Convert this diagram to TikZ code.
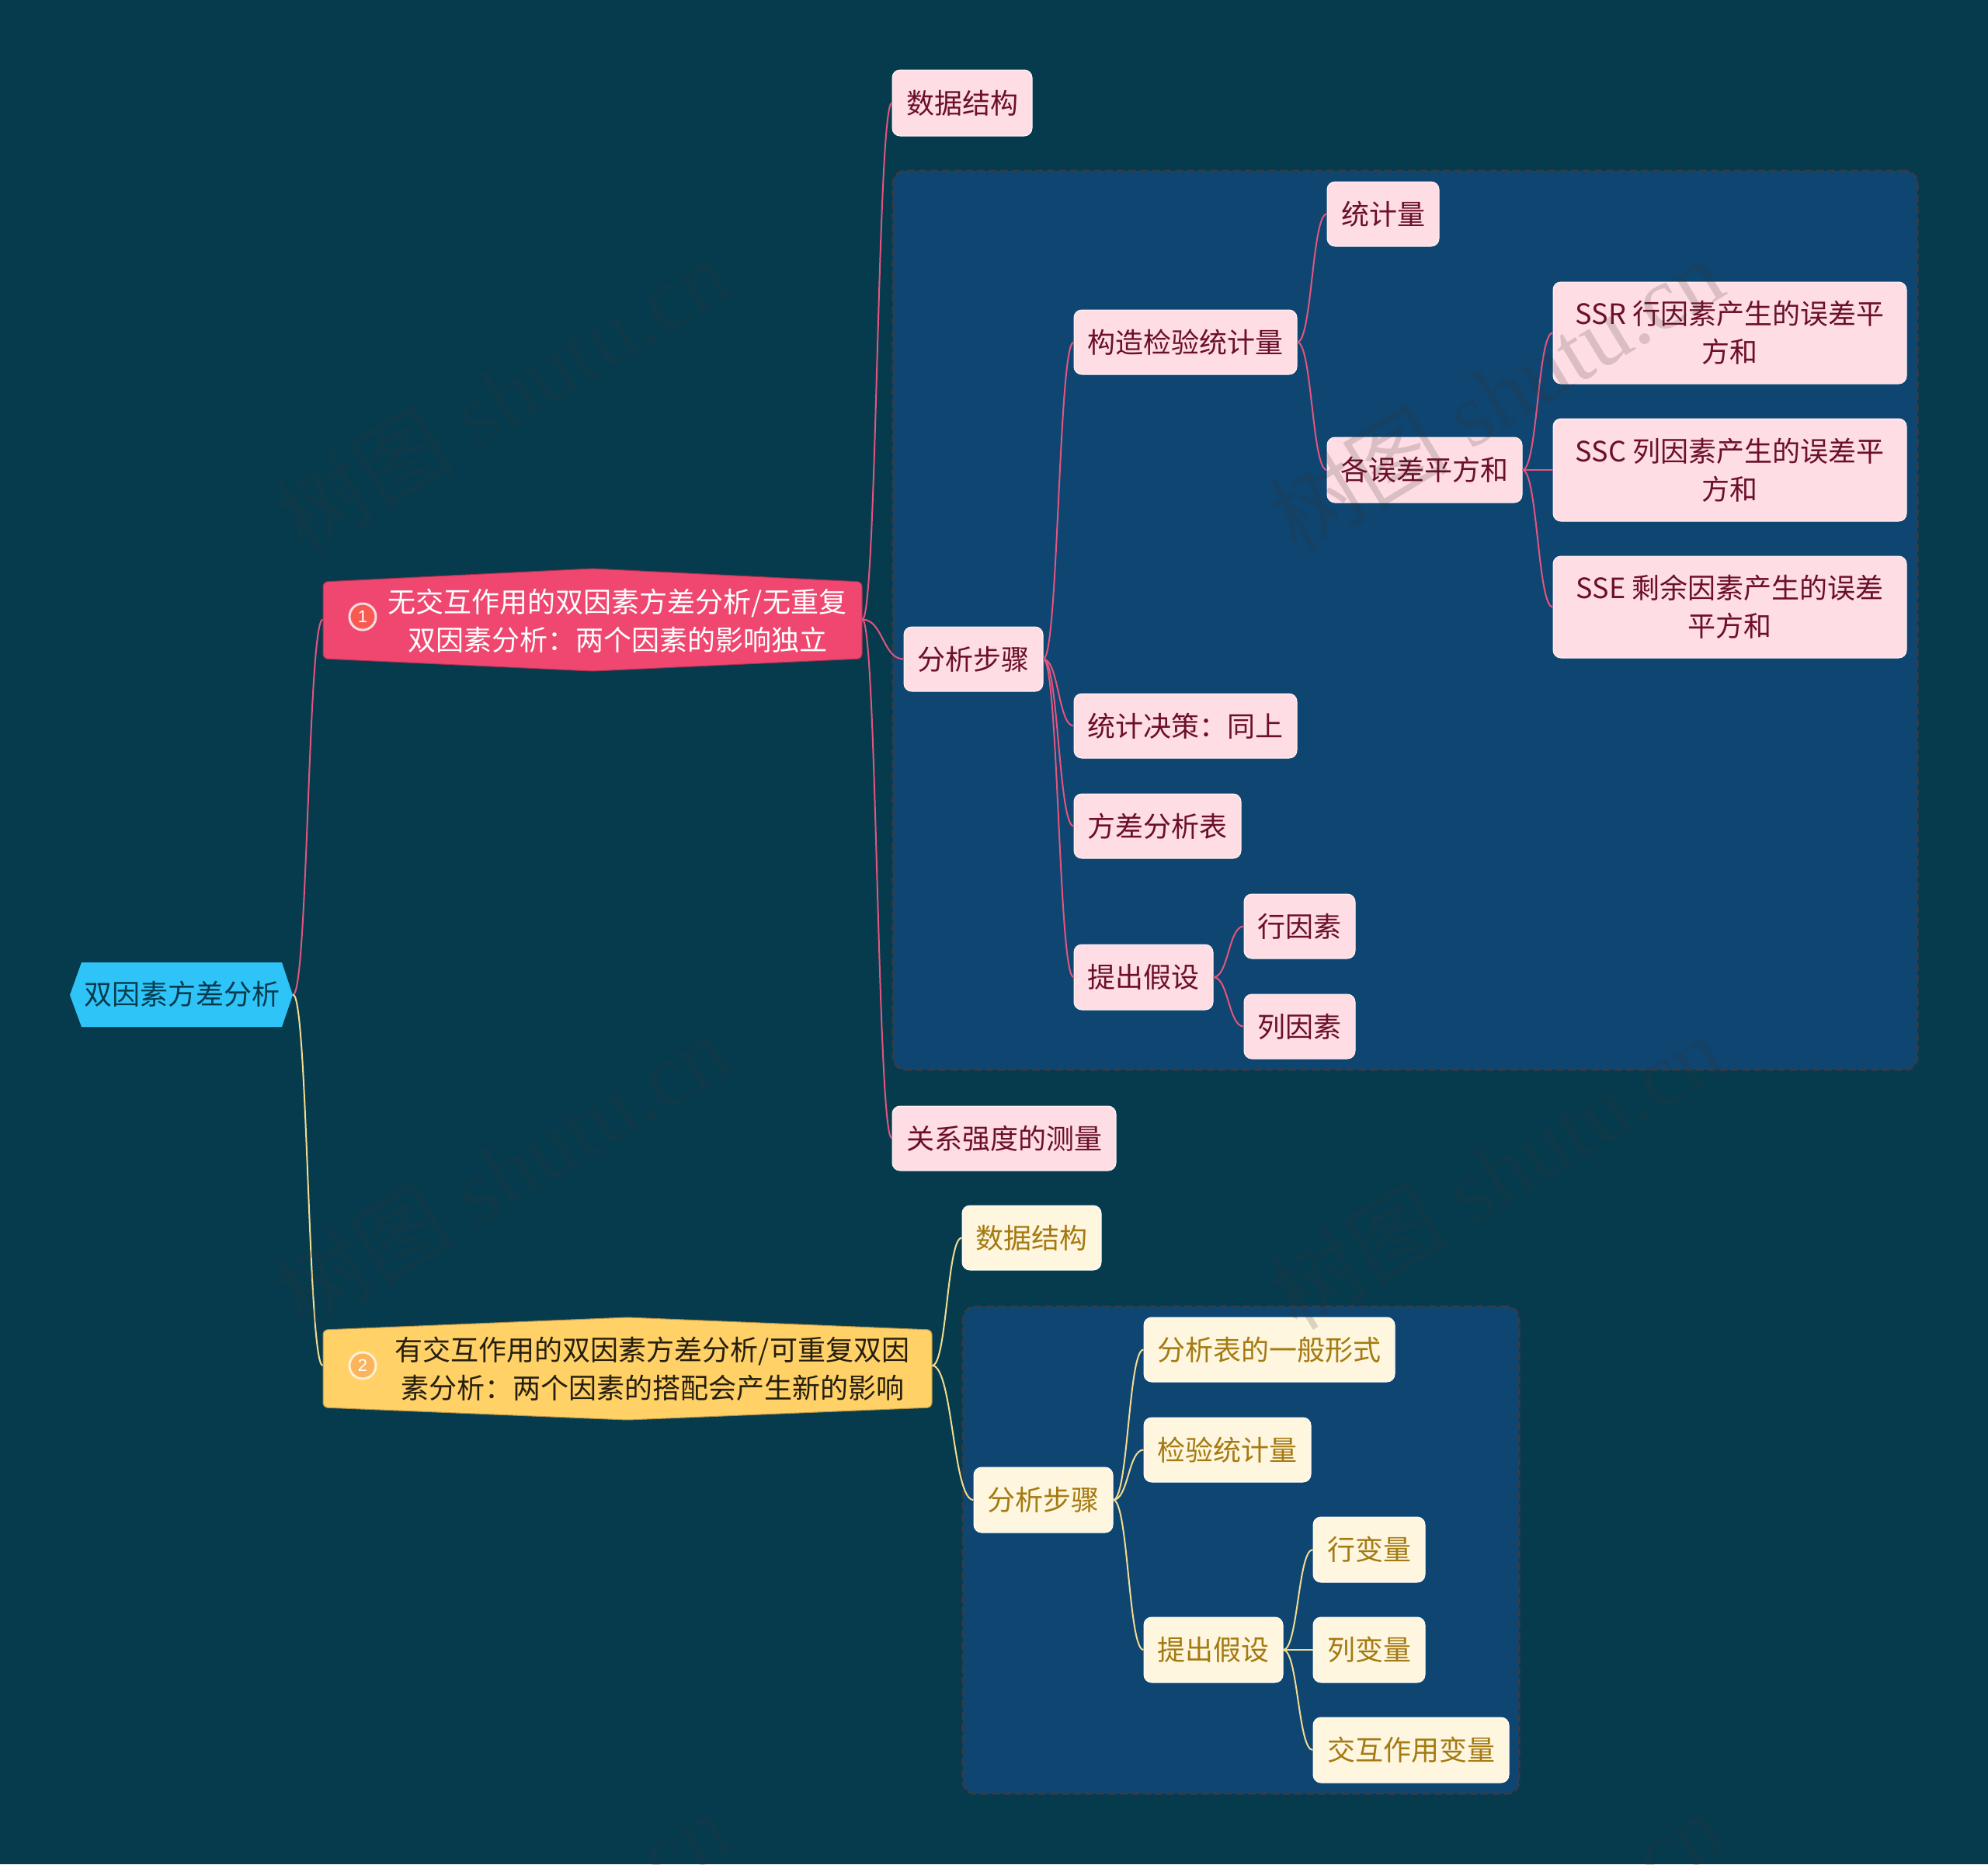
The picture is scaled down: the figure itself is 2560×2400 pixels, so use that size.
\documentclass[tikz,border=0pt]{standalone}
\usepackage{fontspec}
\setmainfont{Noto Sans CJK SC}
\newfontfamily\wmfont{Liberation Serif}
\newfontfamily\wmcjk{Noto Sans CJK SC}
\newfontfamily\badgefont{Liberation Sans}
\usetikzlibrary{calc}
\definecolor{bgc}{HTML}{063B4E}
\definecolor{panelc}{HTML}{0F4571}
\definecolor{paneledge}{HTML}{343C48}
\definecolor{pinkc}{HTML}{FFDDE4}
\definecolor{pinktxt}{HTML}{6B0F2A}
\definecolor{pinkline}{HTML}{E2557F}
\definecolor{yelc}{HTML}{FFF6DF}
\definecolor{yeltxt}{HTML}{A47A12}
\definecolor{yelline}{HTML}{F3DC90}
\definecolor{hotc}{HTML}{EF476F}
\definecolor{goldc}{HTML}{FFD166}
\definecolor{skyc}{HTML}{2EC4F8}
\definecolor{wmc}{HTML}{323232}
\definecolor{badgeA}{HTML}{F85A52}
\definecolor{badgeB}{HTML}{FCB45C}
\tikzset{
  every node/.style={inner sep=0pt,align=center,font=\fontsize{18}{24.5}\selectfont},
  panelbox/.style={draw=paneledge,fill=panelc,line width=1.5pt,dash pattern=on 5pt off 2.5pt,rounded corners=8pt},
  pinkbox/.style={draw=white!70!pinkc,line width=.5pt,fill=pinkc,text=pinktxt,rounded corners=5pt},
  yelbox/.style={draw=white,line width=.5pt,fill=yelc,text=yeltxt,rounded corners=5pt},
  hull/.style={line width=.5pt,rounded corners=3pt},
  pinkconn/.style={draw=pinkline,line width=1pt},
  yelconn/.style={draw=yelline,line width=1pt},
  badge/.style={circle,minimum size=17pt,line width=1.5pt,text=white,font=\fontsize{11}{11}\badgefont},
  watermark/.style={text=wmc,opacity=.18,rotate=31.2,font=\fontsize{58}{58}\wmfont}
}
\newcommand{\mmbox}[7]{%
  \pgfmathsetmacro\bxw{(#5-#3)*0.5}\pgfmathsetmacro\bxh{(#6-#4)*0.5}%
  \node[#2,minimum width=\bxw pt,minimum height=\bxh pt] (#1) at ({(#3+#5)/2},{(#4+#6)/2}) {#7};}
\newcommand{\conn}[3]{%
  \coordinate (cm) at ($(#2.east)!.5!(#3.west)$);
  \draw[#1] (#2.east) .. controls (cm |- #2.east) and (cm |- #3.west) .. (#3.west);}
\begin{document}
\begin{tikzpicture}[x=0.5pt,y=-0.5pt]
\useasboundingbox (0,0) rectangle (2560,2400);
\begin{scope}
\clip (0,0) rectangle (2560,2400);
\fill[bgc] (0,0) rectangle (2560,2400);

% panels
\mmbox{panelA}{panelbox}{1150}{220}{2469}{1377}{}
\mmbox{panelB}{panelbox}{1240}{1682}{1956}{2309}{}

% root
\fill[skyc] (90,1281) -- (105,1239) -- (363,1239) -- (377,1281) -- (363,1322) -- (105,1322) -- cycle;
\mmbox{root}{text=bgc}{90}{1239}{377}{1322}{}
\node (roott) at (234,1280) [text=bgc] {双因素方差分析};

% first level
\filldraw[fill=hotc,draw=hotc!70!black,hull] (416,749) -- (763,732) -- (1110,749) -- (1110,848) -- (763,864) -- (416,848) -- cycle;
\mmbox{one}{}{416}{749}{1110}{846}{}
\node (onet) at (795,799) [text=white] {无交互作用的双因素方差分析/无重复\\双因素分析：两个因素的影响独立};
\node[badge,draw=white!80!hotc,fill=badgeA] (oneb) at (467,794) {1};

\filldraw[fill=goldc,draw=goldc!70!black,hull] (416,1712) -- (808,1696) -- (1200,1712) -- (1200,1812) -- (808,1828) -- (416,1812) -- cycle;
\mmbox{two}{}{416}{1712}{1200}{1804}{}
\node (twot) at (840,1762) [text=black!85!goldc] {有交互作用的双因素方差分析/可重复双因\\素分析：两个因素的搭配会产生新的影响};
\node[badge,draw=white!70!goldc,fill=badgeB] (twob) at (467,1758) {2};

% pink branch
\mmbox{pa}{pinkbox}{1149}{90}{1329}{175}{数据结构}
\mmbox{pb}{pinkbox}{1164}{807}{1343}{890}{分析步骤}
\mmbox{pc}{pinkbox}{1149}{1424}{1437}{1507}{关系强度的测量}
\mmbox{pb1}{pinkbox}{1383}{399}{1670}{482}{构造检验统计量}
\mmbox{pb2}{pinkbox}{1383}{893}{1670}{976}{统计决策：同上}
\mmbox{pb3}{pinkbox}{1383}{1022}{1598}{1105}{方差分析表}
\mmbox{pb4}{pinkbox}{1383}{1216}{1562}{1300}{提出假设}
\mmbox{pb11}{pinkbox}{1709}{234}{1853}{317}{统计量}
\mmbox{pb12}{pinkbox}{1709}{563}{1960}{647}{各误差平方和}
\mmbox{ssr}{pinkbox}{2000}{363}{2455}{494}{SSR 行因素产生的误差平\\方和}
\mmbox{ssc}{pinkbox}{2000}{539}{2455}{671}{SSC 列因素产生的误差平\\方和}
\mmbox{sse}{pinkbox}{2000}{716}{2455}{847}{SSE 剩余因素产生的误差\\平方和}
\mmbox{pb41}{pinkbox}{1602}{1151}{1745}{1234}{行因素}
\mmbox{pb42}{pinkbox}{1602}{1280}{1745}{1363}{列因素}

% yellow branch
\mmbox{ya}{yelbox}{1239}{1552}{1418}{1635}{数据结构}
\mmbox{yb}{yelbox}{1254}{1889}{1433}{1973}{分析步骤}
\mmbox{yb1}{yelbox}{1473}{1696}{1796}{1779}{分析表的一般形式}
\mmbox{yb2}{yelbox}{1473}{1825}{1688}{1908}{检验统计量}
\mmbox{yb3}{yelbox}{1473}{2082}{1652}{2166}{提出假设}
\mmbox{yb31}{yelbox}{1691}{1953}{1835}{2037}{行变量}
\mmbox{yb32}{yelbox}{1691}{2082}{1835}{2166}{列变量}
\mmbox{yb33}{yelbox}{1691}{2211}{1943}{2295}{交互作用变量}

% connectors
\conn{pinkconn}{root}{one}
\conn{yelconn}{root}{two}
\conn{pinkconn}{one}{pa}
\conn{pinkconn}{one}{pb}
\conn{pinkconn}{one}{pc}
\conn{pinkconn}{pb}{pb1}
\conn{pinkconn}{pb}{pb2}
\conn{pinkconn}{pb}{pb3}
\conn{pinkconn}{pb}{pb4}
\conn{pinkconn}{pb1}{pb11}
\conn{pinkconn}{pb1}{pb12}
\conn{pinkconn}{pb12}{ssr}
\conn{pinkconn}{pb12}{ssc}
\conn{pinkconn}{pb12}{sse}
\conn{pinkconn}{pb4}{pb41}
\conn{pinkconn}{pb4}{pb42}
\conn{yelconn}{two}{ya}
\conn{yelconn}{two}{yb}
\conn{yelconn}{yb}{yb1}
\conn{yelconn}{yb}{yb2}
\conn{yelconn}{yb}{yb3}
\conn{yelconn}{yb3}{yb31}
\conn{yelconn}{yb3}{yb32}
\conn{yelconn}{yb3}{yb33}

% watermark
\foreach \wy/\wn in {508/a,1508/b,2508/c}{
  \node[watermark] (wm1\wn) at (646,\wy) {{\wmcjk 树图} shutu.cn};
  \node[watermark] (wm2\wn) at (1926,\wy) {{\wmcjk 树图} shutu.cn};
}
\end{scope}
\end{tikzpicture}
\end{document}
